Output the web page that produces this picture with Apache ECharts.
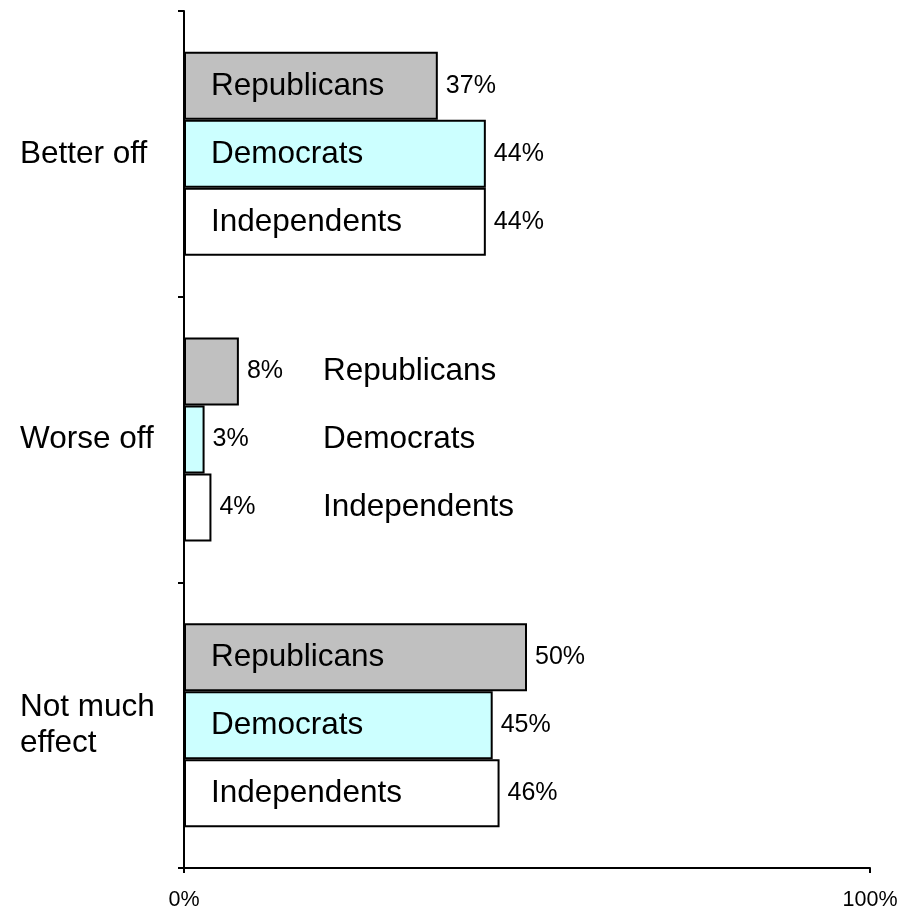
<!DOCTYPE html>
<html><head><meta charset="utf-8">
<script src="https://cdn.jsdelivr.net/npm/echarts@6/dist/echarts.min.js"></script>
<style>html,body{margin:0;padding:0;background:#fff}#c{width:916px;height:912px}</style>
</head><body><div id="c"></div>
<script>
const categories = ['Better off', 'Worse off', 'Not much\neffect'];
const seriesNames = ['Republicans', 'Democrats', 'Independents'];
const republicans = [37, 8, 50];
const democrats = [44, 3, 45];
const independents = [44, 4, 46];
const xTickValues = [0, 100];
const xTickLabels = ['0%', '100%'];
const namesInside = [true, false, true];

const GRID = {left: 184, right: 46, top: 11, bottom: 44};
const plotW = 916 - GRID.left - GRID.right;
const pxPer = plotW / 100;
const colors = ['#C0C0C0', '#CCFFFF', '#FFFFFF'];
const FONT = 'Liberation Sans, Arial, sans-serif';
const NAME_INSET = 27, VALUE_GAP = 8, OUTSIDE_NAME_X = 139;
const NAME_SIZE = 31.5, VALUE_SIZE = 25;

function makeData(name, values) {
  return values.map((v, i) => {
    const barLen = v * pxPer;
    if (namesInside[i]) {
      return {value: v, label: {show: true, position: 'insideLeft', distance: NAME_INSET,
        formatter: '{n|' + name + '}{v|' + v + '%}',
        rich: {
          n: {width: barLen + VALUE_GAP - NAME_INSET, fontSize: NAME_SIZE, fontFamily: FONT, color: '#000', align: 'left', verticalAlign: 'middle'},
          v: {fontSize: VALUE_SIZE, fontFamily: FONT, color: '#000', align: 'left', verticalAlign: 'middle'}
        }}};
    }
    return {value: v, label: {show: true, position: 'right', distance: VALUE_GAP,
      formatter: '{v|' + v + '%}{n|' + name + '}',
      rich: {
        v: {width: OUTSIDE_NAME_X - barLen - VALUE_GAP, fontSize: VALUE_SIZE, fontFamily: FONT, color: '#000', align: 'left', verticalAlign: 'middle'},
        n: {fontSize: NAME_SIZE, fontFamily: FONT, color: '#000', align: 'left', verticalAlign: 'middle'}
      }}};
  });
}

const allValues = [republicans, democrats, independents];
const series = seriesNames.map((name, k) => ({
  name: name,
  type: 'bar',
  data: makeData(name, allValues[k]),
  barWidth: 68,
  barGap: '0%',
  itemStyle: {color: colors[k], borderColor: '#000', borderWidth: 2},
  emphasis: {disabled: true},
  animation: false
}));

const chart = echarts.init(document.getElementById('c'), null, {renderer: 'canvas'});
chart.setOption({
  animation: false,
  backgroundColor: '#fff',
  grid: {left: GRID.left, right: GRID.right, top: GRID.top, bottom: GRID.bottom, containLabel: false},
  xAxis: {
    type: 'value', min: 0, max: 100, interval: 100,
    axisLine: {show: true, lineStyle: {color: '#000', width: 2}},
    axisTick: {show: true, length: 5, lineStyle: {color: '#000', width: 2}},
    splitLine: {show: false},
    axisLabel: {margin: 21, fontSize: 21.5, fontFamily: FONT, color: '#000',
      formatter: v => xTickLabels[xTickValues.indexOf(v)]}
  },
  yAxis: {
    type: 'category', data: categories, inverse: true,
    axisLine: {show: true, lineStyle: {color: '#000', width: 2}},
    axisTick: {show: true, length: 6, lineStyle: {color: '#000', width: 2}},
    axisLabel: {align: 'left', margin: 164, fontSize: NAME_SIZE, lineHeight: 36, fontFamily: FONT, color: '#000'}
  },
  series: series
});
</script></body></html>
